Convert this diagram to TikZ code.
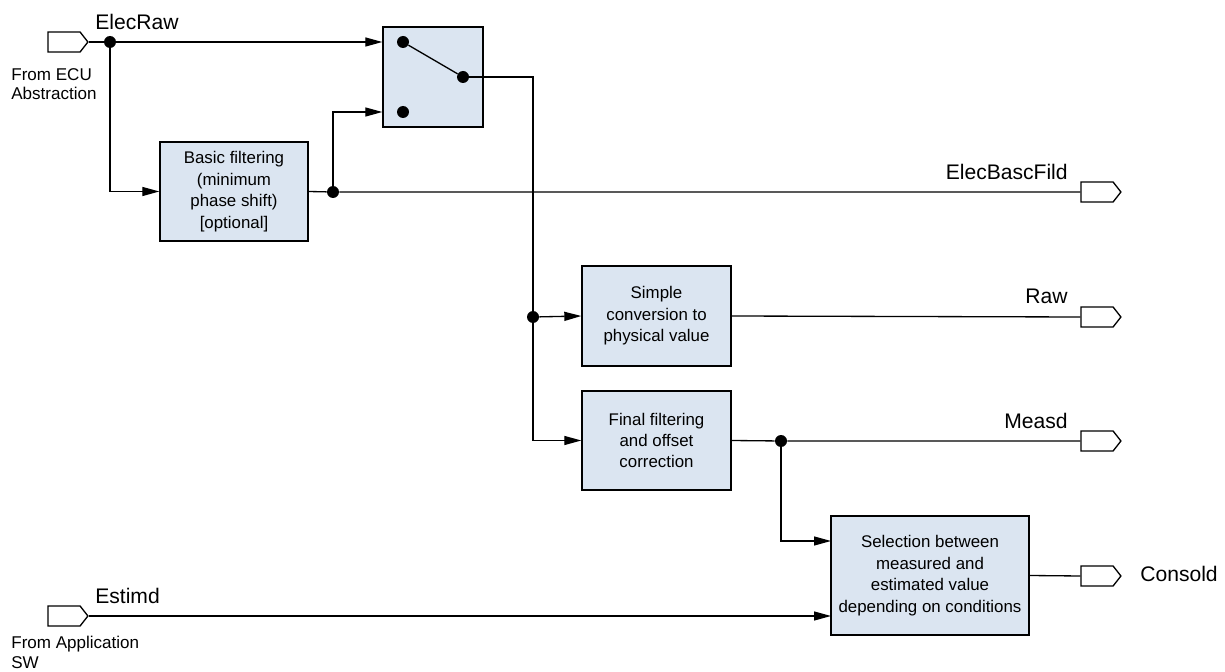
\documentclass[tikz,border=0pt]{standalone}
\usepackage{fontspec}
\setmainfont{Liberation Sans}
\usetikzlibrary{shapes.symbols,arrows.meta}
\definecolor{blockfill}{HTML}{DBE5F1}
\begin{document}
\begin{tikzpicture}
[x=0.02cm,y=-0.02cm,
  blockdecorate/.style={shape=rectangle,draw,line width=0.8pt,fill=blockfill,
    align=center,inner sep=0pt,font=\fontsize{9.6}{12.2}\selectfont},%
  portdecorate/.style={shape=signal,signal to=east,signal pointer angle=104,
    draw,line width=0.75pt,fill=white,inner sep=0pt,
    minimum width=0.8cm,minimum height=0.4cm},%
  dotdecorate/.style={shape=circle,fill,inner sep=0pt,minimum size=0.24cm},%
  labeldecorate/.style={inner sep=0pt,font=\fontsize{12}{14}\selectfont},%
  notedecorate/.style={inner sep=0pt,align=left,font=\fontsize{9.7}{11}\selectfont},%
  linedecorate/.style={-,line width=0.75pt},%
  arrowdecorate/.style={-{Triangle[length=3.4mm,width=1.8mm]},line width=0.75pt}]
\useasboundingbox (0,0) rectangle (1225,672);
%% blocks
\node (switch) at (433,77) [blockdecorate,minimum width=2cm,minimum height=2cm] {};
\node (basic) at (234,191.5) [blockdecorate,minimum width=2.96cm,minimum height=1.98cm]
  {Basic filtering\\(minimum\\phase shift)\\{[optional]}};
\node (simple) at (656.5,316) [blockdecorate,minimum width=2.98cm,minimum height=2cm]
  {Simple\\conversion to\\physical value};
\node (final) at (656.5,440.5) [blockdecorate,minimum width=2.98cm,minimum height=1.98cm]
  {Final filtering\\and offset\\correction};
\node (select) at (930,575.5) [blockdecorate,minimum width=3.96cm,minimum height=2.38cm]
  {Selection between\\measured and\\estimated value\\depending on conditions};
%% switch contacts
\node (swupper) at (403,42) [dotdecorate] {};
\node (swlower) at (403,112) [dotdecorate] {};
\node (swout) at (463,77) [dotdecorate] {};
%% ports
\foreach \portname/\x/\y in {elecrawin/64/42, estimdin/64/616,
  bascfildout/1097/192, rawout/1097/317, measdout/1097/441, consoldout/1097/576} {
  \node (\portname) at (\x,\y) [portdecorate] {};
}
%% junctions
\foreach \nodename/\x/\y in {jelecraw/110/42, jbascfild/333/192,
  jraw/533/317, jmeasd/781/441} {
  \node (\nodename) at (\x,\y) [dotdecorate] {};
}
\coordinate (selmeasd) at (831,541);
\coordinate (selestimd) at (831,616);
%% labels
\node (elecrawlbl) at (95,30) [labeldecorate,anchor=base west] {ElecRaw};
\node (estimdlbl) at (95,603) [labeldecorate,anchor=base west] {Estimd};
\node (bascfildlbl) at (1068,180) [labeldecorate,anchor=base east] {ElecBascFild};
\node (rawlbl) at (1068,304) [labeldecorate,anchor=base east] {Raw};
\node (measdlbl) at (1068,429) [labeldecorate,anchor=base east] {Measd};
\node (consoldlbl) at (1140,582) [labeldecorate,anchor=base west] {Consold};
\node (ecunote) at (11,68) [notedecorate,anchor=north west] {From ECU\\Abstraction};
\node (appnote) at (11,636) [notedecorate,anchor=north west] {From Application\\SW};
%% edges or lines
\draw[linedecorate] (elecrawin.east) -- (jelecraw);
\draw[arrowdecorate] (jelecraw) -- (jelecraw -| switch.west);
\draw[arrowdecorate] (jelecraw) |- (basic.west);
\draw[linedecorate] (basic.east) -- (jbascfild) -- (bascfildout.west);
\draw[arrowdecorate] (jbascfild) |- (swlower -| switch.west);
\draw[linedecorate] (swupper) -- (swout);
\draw[linedecorate] (swout) -| (jraw);
\draw[arrowdecorate] (jraw) -- (simple.west);
\draw[arrowdecorate] (jraw) |- (final.west);
\draw[linedecorate] (simple.east) -- (rawout.west);
\draw[linedecorate] (final.east) -- (jmeasd) -- (measdout.west);
\draw[arrowdecorate] (jmeasd) |- (selmeasd);
\draw[linedecorate] (select.east) -- (consoldout.west);
\draw[arrowdecorate] (estimdin.east) -- (selestimd);
\end{tikzpicture}
\end{document}
